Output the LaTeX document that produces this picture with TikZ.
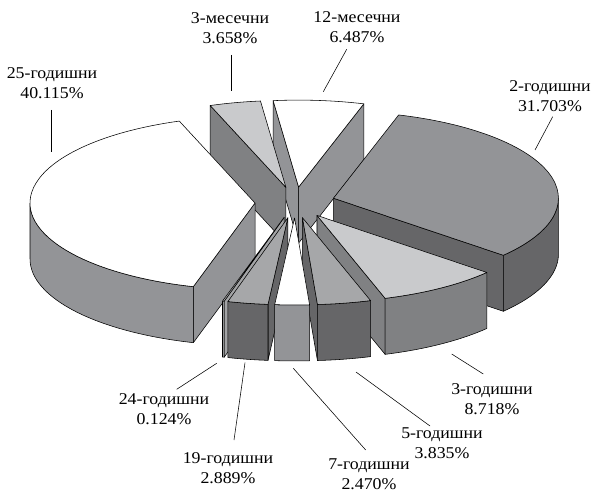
\documentclass[tikz,border=0pt]{standalone}
\usepackage{fontspec}
\setmainfont[FakeStretch=1.08]{Liberation Serif}
\usetikzlibrary{calc}
\definecolor{gA}{HTML}{C9CACC}
\definecolor{gB}{HTML}{A6A7A9}
\definecolor{gC}{HTML}{939497}
\definecolor{gD}{HTML}{808183}
\definecolor{gE}{HTML}{666668}
\definecolor{gF}{HTML}{A3A4A6}
\def\cx{295}\def\cy{-202.5}\def\rx{225}\def\ry{87}\def\hh{56}\def\dd{40}\def\ss{0.3867}
\newcommand\sliceapex[3]{%
  \pgfmathsetmacro\mm{(#2+#3)/2}%
  \coordinate (#1) at ({\cx+\dd*sin(\mm)},{\cy+\dd*\ss*cos(\mm)});}
\newcommand\radface[3]{%
  \filldraw[face,fill=#3] (#1) -- ++({\rx*sin(#2)},{\ry*cos(#2)}) -- ++(0,-\hh) -- ++({-\rx*sin(#2)},{-\ry*cos(#2)}) -- cycle;}
\newcommand\outerface[4]{%
  \filldraw[face,fill=#4] ($(#1)+({\rx*sin(#2)},{\ry*cos(#2)})$) arc[start angle={90-(#2)}, end angle={90-(#3)}, x radius=\rx pt, y radius=\ry pt] -- ++(0,-\hh) arc[start angle={90-(#3)}, end angle={90-(#2)}, x radius=\rx pt, y radius=\ry pt] -- cycle;}
\newcommand\topface[4]{%
  \filldraw[face,fill=#4] (#1) -- ++({\rx*sin(#2)},{\ry*cos(#2)}) arc[start angle={90-(#2)}, end angle={90-(#3)}, x radius=\rx pt, y radius=\ry pt] -- cycle;}
\begin{document}
\begin{tikzpicture}[x=1pt,y=1pt,
  face/.style={draw=black,line width=0.55pt,line join=round},
  lbl/.style={align=center,inner sep=0pt,font=\fontsize{16.5}{20.5}\selectfont},
  leader/.style={draw=black,line width=0.55pt}]
\useasboundingbox (0,0) rectangle (591,-492);
\fill[white] (0,0) rectangle (591,-492);
% 12-месечни
\sliceapex{A12}{-6.5}{16.853}
\radface{A12}{-6.5}{gC}
\radface{A12}{16.853}{gC}
\topface{A12}{-6.5}{16.853}{white}
% 3-месечни
\sliceapex{A3m}{340.328}{353.5}
\radface{A3m}{340.328}{gD}
\topface{A3m}{340.328}{353.5}{gA}
% 2-годишни
\sliceapex{A2}{16.853}{130.984}
\radface{A2}{130.984}{gE}
\outerface{A2}{90}{130.984}{gE}
\topface{A2}{16.853}{130.984}{gC}
% 25-годишни
\sliceapex{A25}{195.914}{340.328}
\radface{A25}{195.914}{gC}
\outerface{A25}{195.914}{270}{gC}
\topface{A25}{195.914}{340.328}{white}
% 3-годишни
\sliceapex{A3}{130.984}{162.369}
\radface{A3}{162.369}{gD}
\outerface{A3}{130.984}{162.369}{gD}
\topface{A3}{130.984}{162.369}{gA}
% 24-годишни
\sliceapex{A24}{195.467}{195.914}
\radface{A24}{195.467}{gF}
\outerface{A24}{195.467}{195.914}{gF}
\topface{A24}{195.467}{195.914}{gA}
% 5-годишни
\sliceapex{A5}{162.369}{176.175}
\radface{A5}{176.175}{gE}
\outerface{A5}{162.369}{176.175}{gE}
\topface{A5}{162.369}{176.175}{gB}
% 19-годишни
\sliceapex{A19}{185.067}{195.467}
\radface{A19}{185.067}{gE}
\outerface{A19}{185.067}{195.467}{gE}
\topface{A19}{185.067}{195.467}{gB}
% 7-годишни
\sliceapex{A7}{176.175}{185.067}
\outerface{A7}{176.175}{185.067}{gC}
\topface{A7}{176.175}{185.067}{white}
% labels
\node[lbl] (L3m) at (230,-28) {3-месечни\\3.658\%};
\node[lbl] (L12) at (357,-27) {12-месечни\\6.487\%};
\node[lbl] (L2) at (550,-96) {2-годишни\\31.703\%};
\node[lbl] (L25) at (52,-83) {25-годишни\\40.115\%};
\node[lbl] (L3) at (492,-399) {3-годишни\\8.718\%};
\node[lbl] (L5) at (442,-443) {5-годишни\\3.835\%};
\node[lbl] (L7) at (369,-474) {7-годишни\\2.470\%};
\node[lbl] (L19) at (228,-468) {19-годишни\\2.889\%};
\node[lbl] (L24) at (164,-409) {24-годишни\\0.124\%};
% leader ends
\coordinate (a3m) at (231.7,-55);   \coordinate (b3m) at (231.7,-90.7);
\coordinate (a12) at (346.7,-49.3); \coordinate (b12) at (323.3,-91.7);
\coordinate (a2) at (552.7,-116.7); \coordinate (b2) at (535,-150);
\coordinate (a25) at (51.7,-110);   \coordinate (b25) at (51.7,-151.7);
\coordinate (a3) at (483.3,-374);   \coordinate (b3) at (451.7,-354);
\coordinate (a5) at (430,-426);     \coordinate (b5) at (356,-372);
\coordinate (a7) at (365.7,-450);   \coordinate (b7) at (293.3,-368.3);
\coordinate (a19) at (234,-440);    \coordinate (b19) at (245,-362.7);
\coordinate (a24) at (176.7,-389.3);\coordinate (b24) at (216.7,-363.3);
\foreach \n in {3m,12,2,25,3,5,7,19,24}{\draw[leader] (a\n) -- (b\n);}
\end{tikzpicture}
\end{document}
